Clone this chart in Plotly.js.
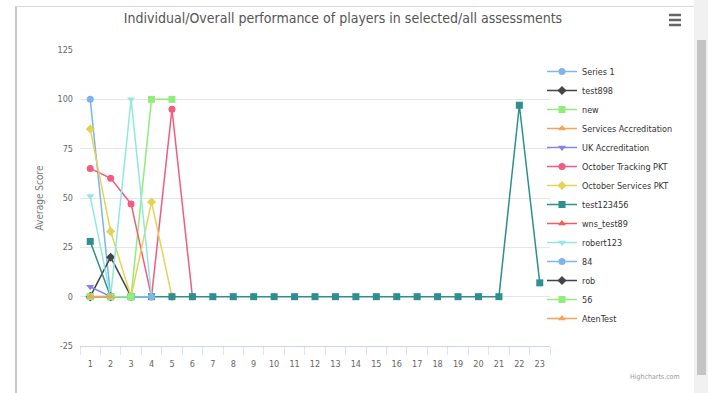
<!DOCTYPE html>
<html>
<head>
<meta charset="utf-8">
<script src="https://cdn.plot.ly/plotly-3.0.1.min.js"></script>
<style>
  html, body { margin: 0; padding: 0; background: #ffffff; width: 708px; height: 393px; overflow: hidden; }
  #chart { position: absolute; left: 0; top: 0; width: 708px; height: 393px; }
  .deco { position: absolute; pointer-events: none; }
</style>
</head>
<body>
<div class="deco" style="left:15px; top:6px; width:2px; height:387px; background:#c8c8c8;"></div>
<div class="deco" style="left:15px; top:6px; width:680px; height:1px; background:#d8d8d8;"></div>
<div class="deco" style="left:694px; top:0px; width:14px; height:393px; background:#f1f1f1;"></div>
<div class="deco" style="left:697px; top:40px; width:9px; height:335px; background:#c4c4c4;"></div>
<div id="chart"></div>
<script>
// ---- data ----
var categories = [1,2,3,4,5,6,7,8,9,10,11,12,13,14,15,16,17,18,19,20,21,22,23];
var seriesNames = ["Series 1","test898","new","Services Accreditation","UK Accreditation",
  "October Tracking PKT","October Services PKT","test123456","wns_test89","robert123",
  "84","rob","56","AtenTest"];
var series1 = [100, 0, 0, 0];
var test898 = [0, 20, 0];
var newSeries = [0, 0, 0, 100, 100];
var servicesAccreditation = [0, 0];
var ukAccreditation = [5, 0];
var octoberTrackingPKT = [65, 60, 47, 0, 95, 0];
var octoberServicesPKT = [85, 33, 0, 48, 0];
var test123456 = [28, 0, 0, 0, 0, 0, 0, 0, 0, 0, 0, 0, 0, 0, 0, 0, 0, 0, 0, 0, 0, 97, 7];
var wnsTest89 = [0];
var robert123 = [51, 0, 100, 0];
var s84 = [0, 0, 0, 0];
var rob = [0, 0];
var s56 = [0, 0, 0];
var atenTest = [0, 0];
var yTickVals = [-25, 0, 25, 50, 75, 100, 125];

var seriesValues = [series1, test898, newSeries, servicesAccreditation, ukAccreditation,
  octoberTrackingPKT, octoberServicesPKT, test123456, wnsTest89, robert123,
  s84, rob, s56, atenTest];

// ---- styling ----
var colors = ['#7cb5ec','#434348','#90ed7d','#f7a35c','#8085e9','#f15c80','#e4d354','#2b908f','#f45b5b','#91e8e1'];
var symbols = ['circle','diamond','square','triangle-up','triangle-down'];
var narrow = '"DejaVu Sans Condensed", "Liberation Sans Narrow", sans-serif';

var traces = seriesNames.map(function(name, i) {
  var vals = seriesValues[i];
  return {
    type: 'scatter',
    mode: 'lines+markers',
    name: name,
    x: categories.slice(0, vals.length),
    y: vals,
    line: { color: colors[i % colors.length], width: 1.5 },
    marker: { color: colors[i % colors.length], symbol: symbols[i % symbols.length], size: 7 }
  };
});

var L = 80, R = 550, T = 50, B = 346;
function px(x) { return (x - L) / (R - L); }
function py(y) { return (B - y) / (B - T); }

var shapes = [15, 20, 25].map(function(y) {
  return { type: 'line', xref: 'paper', yref: 'paper', x0: px(669), x1: px(681), y0: py(y), y1: py(y),
           line: { color: '#666666', width: 2.5 } };
});

var layout = {
  width: 708, height: 393,
  margin: { l: L, r: 708 - R, t: T, b: 393 - B, autoexpand: false },
  paper_bgcolor: 'rgba(0,0,0,0)',
  plot_bgcolor: 'rgba(0,0,0,0)',
  title: {
    text: 'Individual/Overall performance of players in selected/all assessments',
    font: { family: narrow, size: 14, color: '#555555' },
    xref: 'container', yref: 'container', x: 343 / 708, y: 1 - 18 / 393,
    xanchor: 'center', yanchor: 'middle'
  },
  xaxis: {
    range: [0.5, 23.5],
    tickmode: 'array', tickvals: categories, ticktext: categories.map(String),
    ticks: '', showgrid: false, zeroline: false,
    showline: true, linecolor: '#ccd6eb', linewidth: 1,
    tickfont: { family: narrow, size: 9, color: '#666666' },
    ticklabelstandoff: 9,
    minor: { tick0: 0.5, dtick: 1, ticks: 'outside', ticklen: 8, tickcolor: '#dde3ee', tickwidth: 1, showgrid: false }
  },
  yaxis: {
    range: [-25, 125],
    tickmode: 'array', tickvals: yTickVals, ticktext: yTickVals.map(String),
    showgrid: true, gridcolor: '#e6e6e6', gridwidth: 1, zeroline: false,
    ticks: '', showline: false,
    tickfont: { family: narrow, size: 9, color: '#666666' },
    ticklabelstandoff: 6,
    title: { text: 'Average Score', font: { family: narrow, size: 10, color: '#777777' }, standoff: 12 }
  },
  showlegend: true,
  legend: {
    xref: 'container', yref: 'container', x: 542 / 708, y: 1 - 57 / 393,
    xanchor: 'left', yanchor: 'top',
    font: { family: narrow, size: 9, color: '#333333' },
    itemwidth: 30, tracegroupgap: 0, bgcolor: 'rgba(0,0,0,0)',
    maxheight: 330
  },
  shapes: shapes,
  annotations: [{
    text: 'Highcharts.com', xref: 'paper', yref: 'paper', x: px(682), y: py(377),
    xanchor: 'right', yanchor: 'middle', showarrow: false,
    font: { family: narrow, size: 7, color: '#999999' }
  }],
  hovermode: false
};

Plotly.newPlot('chart', traces, layout, { displayModeBar: false, staticPlot: true });
</script>
</body>
</html>
